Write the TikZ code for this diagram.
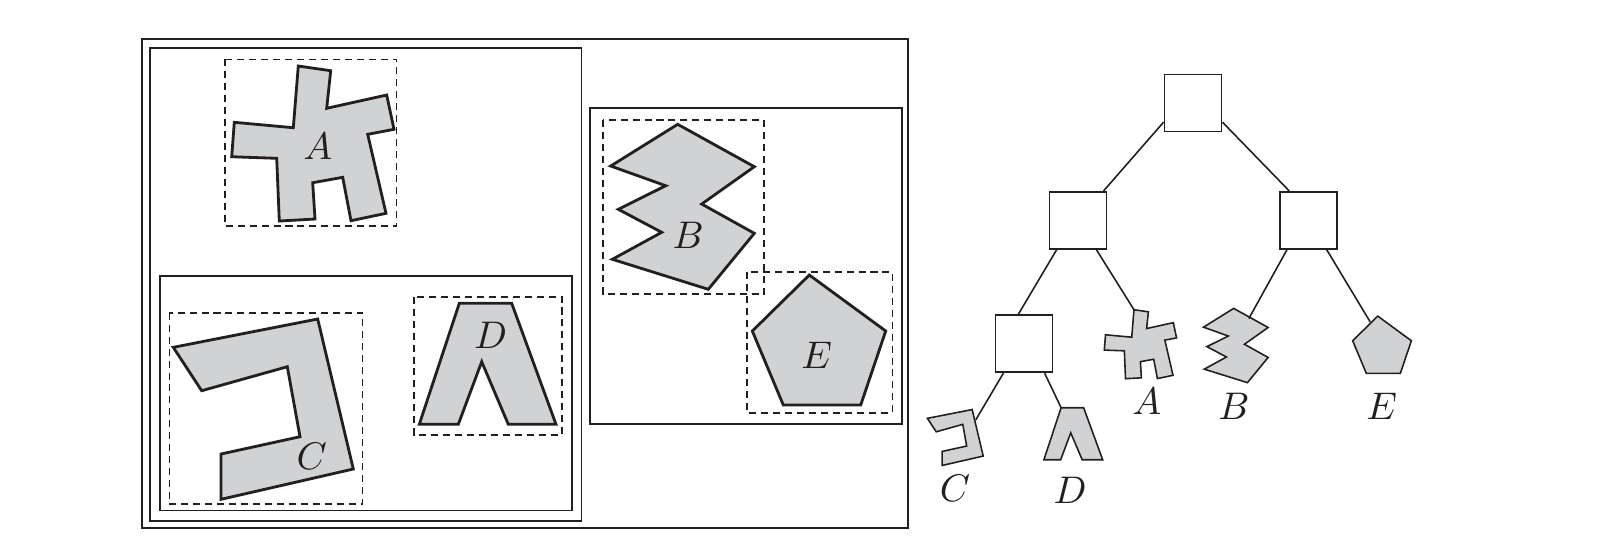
\documentclass[tikz,border=0pt]{standalone}
\definecolor{shapegray}{RGB}{209,210,212}
\definecolor{ink}{RGB}{35,31,32}
\newcommand\polyA{(-14.7,-77.5) -- (17.7,-72.8) -- (13.7,-35.2) -- (73.7,-48.5) -- (81,-14.2) -- (54.7,-9.2) -- (73,69.8) -- (38,77.2) -- (29.7,33.8) -- (-0.3,39.2) -- (2,75.5) -- (-33.7,77.5) -- (-36.3,14.8) -- (-81.3,13.2) -- (-78.7,-21.2) -- (-19.7,-15.8) -- cycle}
\newcommand\polyB{(-4.8,-82.5) -- (71.8,-40.1) -- (19.2,-2.8) -- (71.8,26.5) -- (25.8,82.5) -- (-70.2,52.5) -- (-20.8,25.5) -- (-64.2,2.5) -- (-16.8,-21.1) -- (-71.8,-40.8) -- cycle}
\newcommand\polyC{(-90,-61.9) -- (54.4,-90.2) -- (90,59.8) -- (-42.3,90.1) -- (-42.3,44.8) -- (36.7,27.5) -- (24,-42.5) -- (-61.6,-18.5) -- cycle}
\newcommand\polyD{(-28.4,-60.5) -- (24,-60.5) -- (68.3,60.5) -- (20.6,60.5) -- (-6,-2.1) -- (-29.4,60.5) -- (-68.4,60.5) -- cycle}
\newcommand\polyE{(-9.7,-65) -- (66.7,-9) -- (41.7,65) -- (-35.7,65) -- (-66.7,-9) -- cycle}
\tikzset{
	frame/.style={draw=ink, line width=.5pt},
	bound/.style={draw=ink, line width=.45pt, dash pattern=on 2pt off 1.4pt},
	bigpoly/.style={draw=ink, fill=shapegray, line width=.8pt, line join=miter},
	leafpoly/.style={draw=ink, fill=shapegray, line width=.45pt, line join=miter},
	tnode/.style={draw=ink, fill=white, line width=.5pt, minimum size=.57cm, inner sep=0pt},
	tedge/.style={draw=ink, line width=.45pt},
	lab/.style={inner sep=0pt, text=ink, font=\fontsize{10.5}{12}\selectfont}
}
\begin{document}
\begin{tikzpicture}[x=.01cm, y=-.01cm]
	\useasboundingbox (0,0) rectangle (1616,556);
	\draw[frame] (142,39.3) rectangle (908.3,528.3);
	\draw[frame] (150,48.3) rectangle (581.5,520.7);
	\draw[frame] (160,276) rectangle (572,510.5);
	\draw[frame] (590,108.3) rectangle (901.7,424);
	\draw[bound] (225,59.3) rectangle (396.7,226);
	\draw[bound] (169.3,312.7) rectangle (362.3,504);
	\draw[bound] (414,296.7) rectangle (561.7,435);
	\draw[bound] (602.7,120) rectangle (764,294);
	\draw[bound] (746.7,271.7) rectangle (892.3,412.7);
	\begin{scope}[shift={(313,143.5)}]
		\draw[bigpoly] \polyA;
		\node[lab] (bigA) at (4.7,3.2) {$A$};
	\end{scope}
	\begin{scope}[shift={(682.5,206.8)}]
		\draw[bigpoly] \polyB;
		\node[lab] (bigB) at (5.8,28.2) {$B$};
	\end{scope}
	\begin{scope}[shift={(263.3,409.2)}]
		\draw[bigpoly] \polyC;
		\node[lab] (bigC) at (48.4,47.5) {$C$};
	\end{scope}
	\begin{scope}[shift={(487.7,363.8)}]
		\draw[bigpoly] \polyD;
		\node[lab] (bigD) at (3,-28.8) {$D$};
	\end{scope}
	\begin{scope}[shift={(819,340)}]
		\draw[bigpoly] \polyE;
		\node[lab] (bigE) at (-2.3,15) {$E$};
	\end{scope}
	\begin{scope}[shift={(1140.5,344.2)}, scale=.445]
		\draw[leafpoly] \polyA;
		\coordinate (lfA) at (-14.7,-77.5);
	\end{scope}
	\begin{scope}[shift={(1235.8,345.5)}, scale=.45]
		\draw[leafpoly] \polyB;
		\coordinate (lfB) at (29,-60);
	\end{scope}
	\begin{scope}[shift={(955.3,437.5)}, scale=.31]
		\draw[leafpoly] \polyC;
		\coordinate (lfC) at (66,-57);
	\end{scope}
	\begin{scope}[shift={(1073.3,433.7)}, scale=.43]
		\draw[leafpoly] \polyD;
		\coordinate (lfD) at (-28.4,-60.5);
	\end{scope}
	\begin{scope}[shift={(1382,344.7)}, scale=.44]
		\draw[leafpoly] \polyE;
		\coordinate (lfE) at (-27,-52);
	\end{scope}
	\node[lab] (tA) at (1146.7,401.7) {$A$};
	\node[lab] (tB) at (1234,406.7) {$B$};
	\node[lab] (tC) at (955,488.3) {$C$};
	\node[lab] (tD) at (1070,490) {$D$};
	\node[lab] (tE) at (1381.7,406.7) {$E$};
	\node[tnode] (root) at (1193,103) {};
	\node[tnode] (nl) at (1078,220.3) {};
	\node[tnode] (nr) at (1308.3,220.3) {};
	\node[tnode] (nll) at (1024,343.7) {};
	\draw[tedge] (root.213) -- (nl.49) (root.-33) -- (nr.123);
	\draw[tedge] (nl.-126) -- (nll.101) (nl.-58) -- (lfA);
	\draw[tedge] (nr.234) -- (lfB) (nr.-58) -- (lfE);
	\draw[tedge] (nll.235) -- (lfC) (nll.-55) -- (lfD);
\end{tikzpicture}
\end{document}
